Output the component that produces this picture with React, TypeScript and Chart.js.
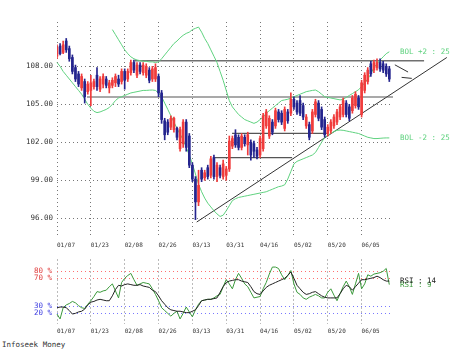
import React, { useEffect, useRef } from 'react';
import { Chart, registerables } from 'chart.js';
Chart.register(...registerables);

const DATE_LABELS = ['01/07', '01/23', '02/08', '02/26', '03/13', '03/31', '04/16', '05/02', '05/20', '06/05'];
const DATE_INDEX = [0, 11, 22, 33, 44, 55, 66, 77, 88, 99];
const PRICE_TICKS = [96, 99, 102, 105, 108];
const RSI_TICKS = [20, 30, 70, 80];

const OPEN = [108.8,109.6,109.1,110.0,109.4,108.7,107.9,107.4,106.3,106.8,
106.0,106.1,106.4,107.3,106.2,106.6,107.0,106.3,106.5,106.7,
107.0,106.8,107.6,107.0,107.5,108.3,107.3,108.1,107.5,107.3,
107.7,107.0,107.0,107.2,105.9,103.7,103.6,103.2,103.0,103.1,
101.5,101.9,103.6,102.5,100.2,99.1,97.3,99.8,99.2,100.0,
99.4,100.8,99.3,100.0,99.3,99.4,99.9,101.7,102.6,102.4,
101.6,102.4,101.8,102.0,101.9,101.4,101.0,101.5,103.3,102.5,
103.6,103.3,104.4,104.3,103.1,104.4,104.3,105.4,105.1,105.3,
104.9,103.3,103.4,102.9,104.2,105.1,104.6,103.8,102.7,102.9,
103.3,103.6,104.0,104.2,105.1,104.8,104.5,104.9,105.5,104.2,
106.1,106.8,108.2,107.7,107.9,108.3,108.2,108.0,107.8];
const CLOSE = [109.5,109.0,109.7,109.3,108.6,107.6,107.0,106.6,107.2,105.6,
106.6,106.7,106.8,106.4,107.0,107.2,106.5,106.7,106.9,107.2,
106.6,107.6,106.9,107.6,108.3,107.7,108.1,107.6,108.1,108.0,
106.9,107.8,107.9,105.9,103.8,102.6,102.8,103.9,103.9,102.4,
103.0,103.6,101.6,100.2,99.1,97.3,98.6,99.1,99.6,99.3,
100.7,99.3,100.2,99.4,100.3,99.9,102.1,102.3,101.8,101.6,
102.5,101.9,102.6,101.0,101.3,100.9,102.3,104.1,104.4,103.9,
102.8,104.5,103.8,103.6,104.6,103.7,105.4,104.8,104.4,104.3,
104.0,104.0,102.4,104.4,105.2,103.9,103.2,102.6,103.2,103.6,
104.0,104.4,104.8,105.3,104.2,103.9,105.5,105.8,104.8,106.7,
107.3,107.7,107.4,108.3,108.3,107.8,107.7,107.4,107.0];
const HIGH = [109.7,109.8,110.0,110.2,109.6,108.9,108.1,107.6,107.4,107.0,
106.8,107.3,107.0,107.9,107.2,107.4,107.2,106.9,107.1,107.4,
107.3,107.8,107.8,107.8,108.5,108.5,108.3,108.3,108.3,108.2,
107.9,108.0,108.2,107.4,106.1,103.9,103.8,104.1,104.0,103.2,
103.2,103.8,103.8,102.7,100.4,99.3,99.8,100.0,99.8,100.2,
100.9,101.0,100.4,100.2,100.6,100.1,102.5,102.5,103.0,102.6,
102.7,102.6,102.8,102.2,102.1,101.6,102.5,104.3,104.6,104.1,
103.8,104.7,104.6,104.5,104.8,104.6,105.9,105.6,105.3,105.7,
105.1,104.2,103.6,104.6,105.4,105.3,104.8,104.0,103.4,103.8,
104.2,104.6,105.0,105.5,105.3,105.0,105.7,106.0,105.7,106.9,
107.5,107.9,108.4,108.5,108.6,108.6,108.4,108.2,108.0];
const LOW = [108.6,108.9,109.0,109.1,108.4,107.4,106.8,106.4,106.1,105.1,
105.8,104.9,106.2,106.1,106.0,106.3,106.3,105.9,106.3,106.4,
106.4,106.6,106.2,106.8,107.3,107.5,107.1,107.4,107.3,107.1,
106.7,106.8,106.8,105.6,103.5,102.2,102.6,103.0,102.8,102.2,
101.3,101.6,101.3,100.0,98.9,95.9,97.0,98.9,99.0,99.1,
99.2,99.1,98.9,99.2,99.1,99.0,99.7,101.5,101.6,101.4,
101.4,101.7,101.0,100.6,100.8,100.7,100.8,101.3,103.1,102.3,
102.6,103.1,103.6,103.4,102.9,103.5,104.1,104.6,104.2,104.1,
103.8,103.1,102.2,102.7,104.0,103.7,103.0,102.4,102.5,102.7,
103.1,103.4,103.8,104.0,104.0,103.7,104.3,104.7,104.6,104.0,
105.9,106.6,107.2,107.5,107.7,107.6,107.5,107.2,106.8];

const BOL_UPPER = [null,null,null,null,null,null,null,null,null,null,
null,null,null,null,null,null,null,null,110.9,110.5,
110.1,109.7,109.3,109.0,108.75,108.6,108.5,108.45,108.4,108.4,
108.35,108.35,108.3,108.35,108.6,108.9,109.2,109.5,109.8,110.0,
110.25,110.45,110.6,110.7,110.9,111.0,111.1,110.7,110.2,109.8,
109.3,108.8,108.3,107.6,106.9,106.1,105.3,104.8,104.5,104.2,
104.0,103.8,103.7,103.6,103.5,103.6,103.8,104.0,104.3,104.5,
104.7,104.9,105.1,105.3,105.35,105.4,105.5,105.6,105.7,105.8,
105.9,106.0,106.05,106.1,106.13,106.0,105.8,105.6,105.55,105.5,
105.45,105.4,105.35,105.4,105.55,105.7,105.85,106.0,106.15,106.4,
106.7,107.0,107.4,107.9,108.2,108.5,108.75,109.0,109.15];
const BOL_LOWER = [108.3,108.0,107.6,107.3,107.0,106.7,106.4,106.1,105.8,105.4,
105.0,104.7,104.45,104.35,104.4,104.5,104.6,104.75,105.0,105.3,
105.5,105.6,105.7,105.8,105.9,105.95,106.0,106.05,106.1,106.1,
106.12,106.13,106.1,105.9,105.6,105.1,104.6,104.1,103.6,103.1,
102.65,102.2,101.6,101.0,100.3,99.5,98.7,98.1,97.6,97.2,
96.9,96.6,96.35,96.15,96.25,96.6,97.0,97.4,97.55,97.65,
97.7,97.75,97.8,97.85,97.9,97.95,98.0,98.05,98.1,98.2,
98.3,98.4,98.5,98.55,98.65,99.1,99.7,100.3,100.5,100.6,
100.7,100.8,100.9,101.0,101.2,101.6,102.0,102.4,102.55,102.7,
102.85,102.95,102.97,102.95,102.9,102.85,102.8,102.75,102.7,102.6,
102.5,102.4,102.35,102.3,102.3,102.32,102.34,102.35,102.35];

const RSI14 = [28,29,29,28,24,19,20,22,23,26,
32,36,37,39,40,39,38,38,45,54,
60,59,61,62,61,60,60,61,59,58,
57,53,51,45,38,33,28,25,24,23,
23,22,21,21,23,25,31,38,39,40,
40,41,42,50,58,64,66,67,68,68,
66,65,64,58,51,48,47,52,57,60,
62,64,66,68,70,74,79,70,60,55,
50,47,48,50,51,48,45,43,42,42,
42,42,48,55,60,58,53,58,63,68,
68,69,70,71,73,71,68,66,66];
const RSI9 = [19,12,28,32,34,37,35,31,28,27,
33,38,44,51,50,52,53,58,62,52,
42,64,70,74,77,68,60,62,64,63,
62,55,47,38,28,24,20,16,20,23,
12,20,29,22,15,25,33,38,39,40,
40,42,45,47,58,68,62,55,68,77,
70,62,58,50,42,43,44,55,64,76,
86,86,84,75,68,74,81,62,50,47,
42,40,43,45,47,45,42,42,50,55,
46,38,48,58,66,58,47,62,77,55,
62,75,73,76,77,78,80,84,61];

const RESIST_X = [25.3, 119.3];
const RESIST_Y = [108.44, 108.44];
const SUPPORT1_X = [9.75, 109.2];
const SUPPORT1_Y = [105.58, 105.58];
const SUPPORT2_X = [50.7, 76.4];
const SUPPORT2_Y = [100.79, 100.79];
const SUPPORT3_X = [56.9, 87.7];
const SUPPORT3_Y = [102.71, 102.71];
const DIAG_X = [45.4, 126.7];
const DIAG_Y = [95.71, 108.7];
const ARROW_X = [109.8, 114.1, 115.3];
const ARROW_Y = [108.12, 107.55, 107.05];
const ARROW_HEAD_X = [112.0, 115.3, 115.3];
const ARROW_HEAD_Y = [107.13, 107.05, 107.84];

const UP_COLOR = '#f03c3c';
const DOWN_COLOR = '#24248e';
const BAND_COLOR = '#5fd27f';
const RSI9_COLOR = '#3c9a3c';
const RSI14_COLOR = '#222222';
const MONO = 'DejaVu Sans Mono';

const pts = (xs: number[], ys: number[]) => xs.map((x, i) => ({ x, y: ys[i] }));
const series = (vals: (number | null)[]) => vals.map((v, i) => ({ x: i, y: v }));

const dateAxis = (height: number) => ({
  type: 'linear' as const,
  min: 0,
  max: 109.2,
  offset: false,
  afterBuildTicks: (s: any) => { s.ticks = DATE_INDEX.map((v) => ({ value: v })); },
  afterFit: (s: any) => { s.height = height; },
  ticks: {
    align: 'start' as const,
    padding: 4,
    autoSkip: false,
    maxRotation: 0,
    color: '#333',
    font: { family: MONO, size: 6 },
    callback: (v: any) => { const k = DATE_INDEX.indexOf(Number(v)); return k >= 0 ? DATE_LABELS[k] : ''; },
  },
  grid: { color: '#777', drawTicks: false, offset: false },
  border: { display: false, dash: [1, 3] },
});

function endLabelPlugin(items: { text: string; value: number; color: string }[]) {
  return {
    id: 'endLabels',
    afterDatasetsDraw(chart: any) {
      const ctx = chart.ctx;
      const ys = chart.scales.y;
      ctx.save();
      ctx.font = `7.5px "${MONO}"`;
      ctx.textBaseline = 'middle';
      ctx.textAlign = 'left';
      for (const it of items) {
        ctx.fillStyle = it.color;
        ctx.fillText(it.text, chart.chartArea.right + 7, ys.getPixelForValue(it.value));
      }
      ctx.restore();
    },
  };
}

export default function App() {
  const mainRef = useRef<HTMLCanvasElement>(null);
  const rsiRef = useRef<HTMLCanvasElement>(null);

  useEffect(() => {
    const idx = CLOSE.map((_, i) => i);
    const candleColors = idx.map((i) => (CLOSE[i] >= OPEN[i] ? UP_COLOR : DOWN_COLOR));
    const lineDs = (data: any[], color: string, width: number, order: number) => ({
      type: 'line' as const,
      data,
      borderColor: color,
      borderWidth: width,
      pointRadius: 0,
      tension: 0,
      fill: false,
      clip: false as any,
      order,
    });

    const main = new Chart(mainRef.current!, {
      type: 'bar',
      data: {
        datasets: [
          {
            type: 'bar',
            data: idx.map((i) => ({ x: i, y: [LOW[i], HIGH[i]] })) as any,
            backgroundColor: candleColors,
            barThickness: 1,
            grouped: false,
            borderWidth: 0,
            order: 1,
          } as any,
          {
            type: 'bar',
            data: idx.map((i) => ({ x: i, y: [OPEN[i], CLOSE[i]] })) as any,
            backgroundColor: candleColors,
            barThickness: 2,
            grouped: false,
            borderWidth: 0,
            minBarLength: 1,
            order: 0,
          } as any,
          lineDs(series(BOL_UPPER), BAND_COLOR, 1, 2),
          lineDs(series(BOL_LOWER), BAND_COLOR, 1, 2),
          lineDs(pts(RESIST_X, RESIST_Y), '#707070', 1.5, 3),
          lineDs(pts(SUPPORT1_X, SUPPORT1_Y), '#555', 1.2, 3),
          lineDs(pts(SUPPORT2_X, SUPPORT2_Y), '#555', 1.2, 3),
          lineDs(pts(SUPPORT3_X, SUPPORT3_Y), '#555', 1.2, 3),
          lineDs(pts(DIAG_X, DIAG_Y), '#333', 1, 3),
          lineDs(pts(ARROW_X, ARROW_Y), '#333', 1, 3),
          lineDs(pts(ARROW_HEAD_X, ARROW_HEAD_Y), '#333', 1, 3),
        ] as any,
      },
      options: {
        animation: false,
        responsive: false,
        maintainAspectRatio: false,
        devicePixelRatio: 1,
        layout: { padding: { top: 22, right: 66, left: 0, bottom: 0 } },
        plugins: { legend: { display: false }, tooltip: { enabled: false } },
        scales: {
          x: dateAxis(12) as any,
          y: {
            type: 'linear',
            min: 94.45,
            max: 111.5,
            afterBuildTicks: (s: any) => { s.ticks = PRICE_TICKS.map((v) => ({ value: v })); },
            afterFit: (s: any) => { s.width = 57; },
            ticks: {
              padding: 4,
              color: '#333',
              font: { family: MONO, size: 7.5 },
              callback: (v: any) => Number(v).toFixed(2),
            },
            grid: { color: '#777', drawTicks: false },
            border: { display: false, dash: [1, 3] },
          } as any,
        },
      },
      plugins: [
        endLabelPlugin([
          { text: 'BOL +2 : 25', value: BOL_UPPER[BOL_UPPER.length - 1] as number, color: BAND_COLOR },
          { text: 'BOL -2 : 25', value: BOL_LOWER[BOL_LOWER.length - 1], color: BAND_COLOR },
        ]),
      ],
    });

    const rsi = new Chart(rsiRef.current!, {
      type: 'line',
      data: {
        datasets: [
          lineDs(series(RSI9), RSI9_COLOR, 1, 1),
          lineDs(series(RSI14), RSI14_COLOR, 1, 0),
        ] as any,
      },
      options: {
        animation: false,
        responsive: false,
        maintainAspectRatio: false,
        devicePixelRatio: 1,
        layout: { padding: { top: 3, right: 66, left: 0, bottom: 0 } },
        plugins: { legend: { display: false }, tooltip: { enabled: false } },
        scales: {
          x: dateAxis(16) as any,
          y: {
            type: 'linear',
            min: 4.8,
            max: 96.8,
            afterBuildTicks: (s: any) => { s.ticks = RSI_TICKS.map((v) => ({ value: v })); },
            afterFit: (s: any) => { s.width = 57; },
            ticks: {
              padding: 5,
              font: { family: MONO, size: 7.5 },
              color: (c: any) => (c.tick && c.tick.value >= 50 ? '#e03c3c' : '#3c3ce0'),
              callback: (v: any) => `${v} %`,
            },
            grid: {
              drawTicks: false,
              color: (c: any) => (c.tick && c.tick.value >= 50 ? '#ff7070' : '#7878ff'),
            },
            border: { display: false, dash: [1, 3] },
          } as any,
        },
      },
      plugins: [
        endLabelPlugin([
          { text: 'RSI : 9', value: RSI9[RSI9.length - 1], color: RSI9_COLOR },
          { text: 'RSI : 14', value: RSI14[RSI14.length - 1], color: RSI14_COLOR },
        ]),
      ],
    });

    return () => {
      main.destroy();
      rsi.destroy();
    };
  }, []);

  return (
    <div style={{ position: 'fixed', left: 0, top: 0, width: 459, height: 360, background: '#fff', overflow: 'hidden' }}>
      <canvas ref={mainRef} width={459} height={250} style={{ position: 'absolute', left: 0, top: 0 }} />
      <canvas ref={rsiRef} width={459} height={90} style={{ position: 'absolute', left: 0, top: 250 }} />
      <div
        style={{
          position: 'absolute',
          left: 2,
          top: 340,
          fontFamily: MONO,
          fontSize: '7.5px',
          lineHeight: '10px',
          color: '#333',
          whiteSpace: 'nowrap',
        }}
      >
        Infoseek Money
      </div>
    </div>
  );
}
